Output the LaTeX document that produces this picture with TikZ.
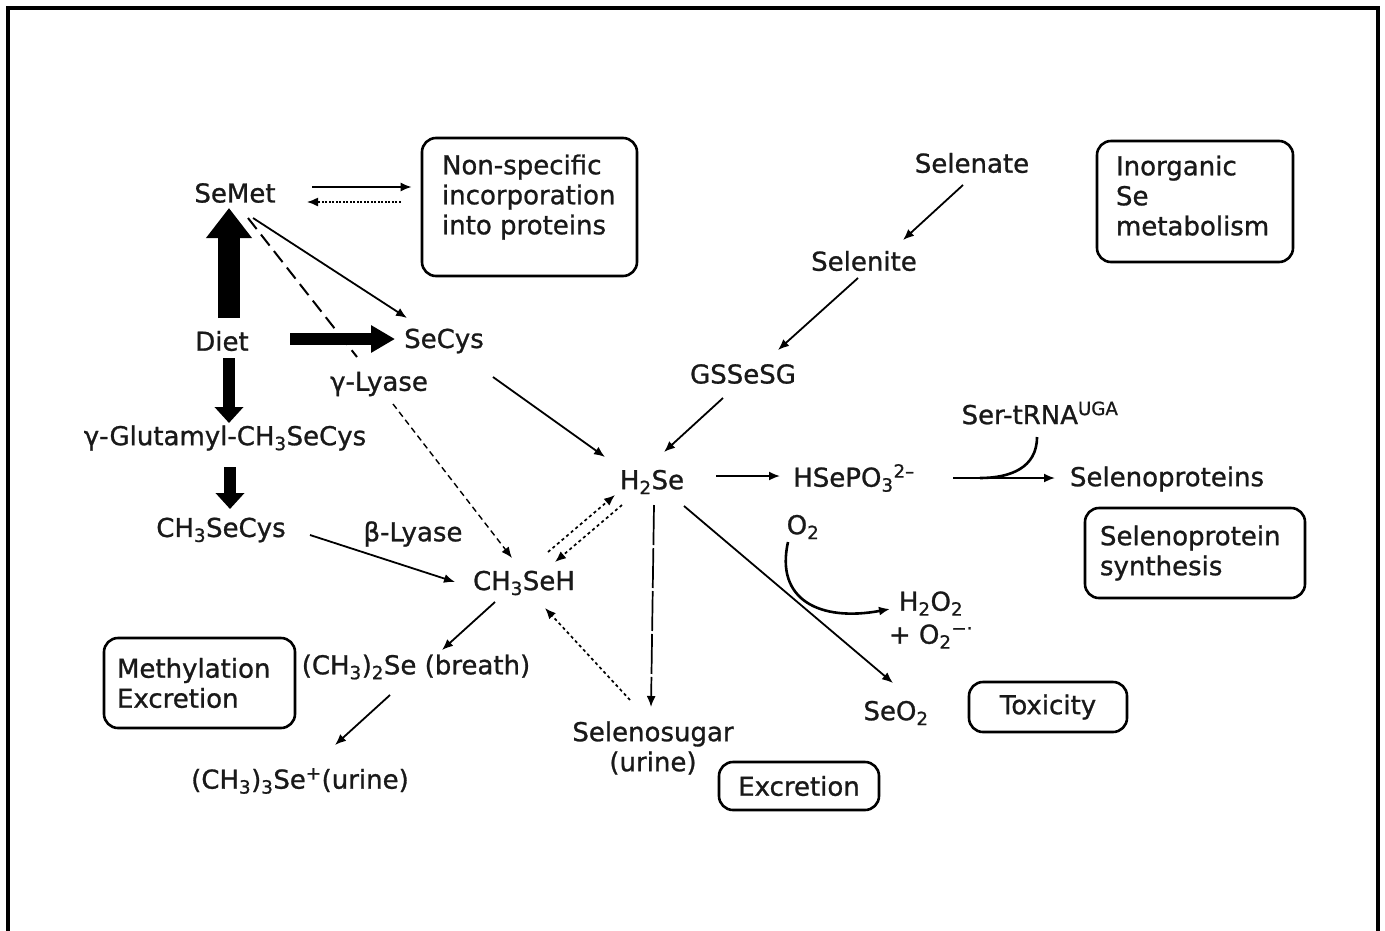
\documentclass[tikz,border=0pt]{standalone}
\usepackage{fontspec}
\setmainfont{DejaVu Sans}[FakeBold=1]
\usetikzlibrary{arrows.meta,calc}
\newcommand\figfont{\fontsize{26}{30}\selectfont}
\tikzset{
  txt/.style={font=\figfont, inner sep=1pt, text=black!90},
  ebox/.style={draw, line width=2.6pt, rounded corners=14pt, font=\figfont, inner sep=0pt, text=black!90},
  arr/.style={line width=1.8pt, -{Latex[length=11pt,width=9pt]}},
  dotarr/.style={line width=1.7pt, dash pattern=on 3pt off 3pt, -{Latex[length=11pt,width=9pt]}},
  finedot/.style={line width=1.4pt, dash pattern=on 2pt off 1.5pt, -{Latex[length=11pt,width=9pt]}},
  longdash/.style={line width=1.7pt, dash pattern=on 40pt off 3pt, -{Latex[length=11pt,width=9pt]}},
  dashA/.style={line width=2pt, dash pattern=on 14pt off 7pt},
  dashB/.style={line width=1.4pt, dash pattern=on 6pt off 4pt, -{Latex[length=11pt,width=9pt]}},
  fatup/.style={line width=22pt, -{Triangle[length=30pt,width=44pt]}},
  fatright/.style={line width=12pt, -{Triangle[length=24pt,width=26pt]}},
  fatdown/.style={line width=12pt, -{Triangle[length=16pt,width=28pt]}}
}
\begin{document}
\begin{tikzpicture}[x=1pt,y=-1pt]
\useasboundingbox (0,0) rectangle (1385,930);
\fill[white] (0,0) rectangle (1385,930);
\draw[line width=4pt, line join=miter] (8,940) -- (8,8) -- (1378,8) -- (1378,940);

% boxes
\node[ebox, minimum width=215pt, minimum height=138pt] (nsbox) at (529.5,207)
  {\parbox[c][105pt][t]{175pt}{\raggedright Non-specific\\incorporation\\into proteins}};
\node[ebox, minimum width=196pt, minimum height=121pt] (inorg) at (1195,201.5)
  {\parbox[c][92pt][t]{158pt}{\raggedright Inorganic\\Se\\metabolism}};
\node[ebox, minimum width=220pt, minimum height=90pt, text width=190pt, align=left] (selsyn) at (1195,553)
  {Selenoprotein\\synthesis};
\node[ebox, minimum width=191pt, minimum height=90pt, text width=165pt, align=left] (methyl) at (199.5,683)
  {Methylation\\Excretion};
\node[ebox, minimum width=158pt, minimum height=50pt] (tox) at (1048,707) {Toxicity};
\node[ebox, minimum width=160pt, minimum height=48pt] (excr) at (799,786) {Excretion};

% species
\node[txt] (semet) at (235,193) {SeMet};
\node[txt] (diet) at (222,341) {Diet};
\node[txt] (secys) at (444,341) {SeCys};
\node[txt] (glut) at (225,438) {γ-Glutamyl-CH\textsubscript{3}SeCys};
\node[txt] (ch3secys) at (221,530) {CH\textsubscript{3}SeCys};
\node[txt, fill=white] (glyase) at (379,384) {γ-Lyase};
\node[txt] (blyase) at (413,534) {β-Lyase};
\node[txt] (ch3seh) at (524,583) {CH\textsubscript{3}SeH};
\node[txt] (h2se) at (652,482) {H\textsubscript{2}Se};
\node[txt] (gssesg) at (743,374) {GSSeSG};
\node[txt] (selenite) at (864,261) {Selenite};
\node[txt] (selenate) at (972,163) {Selenate};
\node[txt] (hsepo3) at (854,478) {HSePO\textsubscript{3}\textsuperscript{2–}};
\node[txt] (sertrna) at (1040,413) {Ser-tRNA\textsuperscript{UGA}};
\node[txt] (selprot) at (1167,479) {Selenoproteins};
\node[txt] (o2) at (803,527) {O\textsubscript{2}};
\node[txt, align=center] (ros) at (931,620) {H\textsubscript{2}O\textsubscript{2}\\[3pt]+ O\textsubscript{2}\textsuperscript{−·}};
\node[txt] (seo2) at (896,713) {SeO\textsubscript{2}};
\node[txt, align=center] (selsugar) at (653,748) {Selenosugar\\(urine)};
\node[txt] (dmse) at (416,667) {(CH\textsubscript{3})\textsubscript{2}Se (breath)};
\node[txt] (tmse) at (300,781) {(CH\textsubscript{3})\textsubscript{3}Se\textsuperscript{+}(urine)};

% connectors
\draw[arr] ($(semet)+(77,-6)$) -- ($(nsbox.west)+(-9,-20)$);
\draw[finedot] ($(nsbox.west)+(-20,-5)$) -- ($(semet)+(72,9)$);
\draw[fatup] ($(diet)+(7,-23)$) -- ($(semet)+(-6,15)$);
\draw[fatright] ($(diet)+(68,-2)$) -- ($(secys)+(-49,-2)$);
\draw[fatdown] ($(diet)+(7,17)$) -- ($(glut)+(4,-15)$);
\draw[fatdown] ($(glut)+(5,29)$) -- ($(ch3secys)+(9,-21)$);
\draw[arr] ($(semet)+(18,25)$) -- ($(secys)+(-37,-23)$);
\draw[dashA] ($(semet)+(13,25)$) -- ($(glyase)+(-22,-27)$);
\draw[dashB] ($(glyase)+(14,20)$) -- ($(ch3seh)+(-12,-25)$);
\draw[arr] ($(ch3secys)+(89,5)$) -- ($(ch3seh)+(-69,-1)$);
\draw[arr] ($(secys)+(49,36)$) -- ($(h2se)+(-47,-25)$);
\draw[arr] ($(gssesg)+(-20,24)$) -- ($(h2se)+(12,-30)$);
\draw[arr] ($(selenite)+(-6,17)$) -- ($(gssesg)+(35,-24)$);
\draw[arr] ($(selenate)+(-9,22)$) -- ($(selenite)+(39,-21)$);
\draw[arr] ($(h2se)+(64,-6)$) -- ($(hsepo3)+(-74,-2)$);
\draw[arr] ($(hsepo3)+(99,0)$) -- ($(selprot)+(-112,-1)$);
\draw[line width=2.6pt] ($(sertrna)+(-3,24)$) .. controls ($(sertrna)+(-3,55)$) and ($(sertrna)+(-30,65)$) .. ($(sertrna)+(-60,65)$);
\draw[arr] ($(h2se)+(32,24)$) -- ($(seo2)+(-3,-30)$);
\draw[line width=2.6pt, -{Latex[length=11pt,width=9pt]}] ($(o2)+(-15,15)$) .. controls ($(o2)+(-28,73)$) and ($(o2)+(17,95)$) .. ($(ros)+(-41,-11)$);
\draw[longdash] ($(h2se)+(2,23)$) -- ($(selsugar)+(-2,-41)$);
\draw[dotarr] ($(selsugar)+(-23,-48)$) -- ($(ch3seh)+(21,25)$);
\draw[dotarr] ($(ch3seh)+(24,-31)$) -- ($(h2se)+(-37,13)$);
\draw[dotarr] ($(h2se)+(-30,23)$) -- ($(ch3seh)+(31,-21)$);
\draw[arr] ($(ch3seh)+(-29,19)$) -- ($(dmse)+(26,-17)$);
\draw[arr] ($(dmse)+(-26,28)$) -- ($(tmse)+(35,-36)$);
\end{tikzpicture}
\end{document}
